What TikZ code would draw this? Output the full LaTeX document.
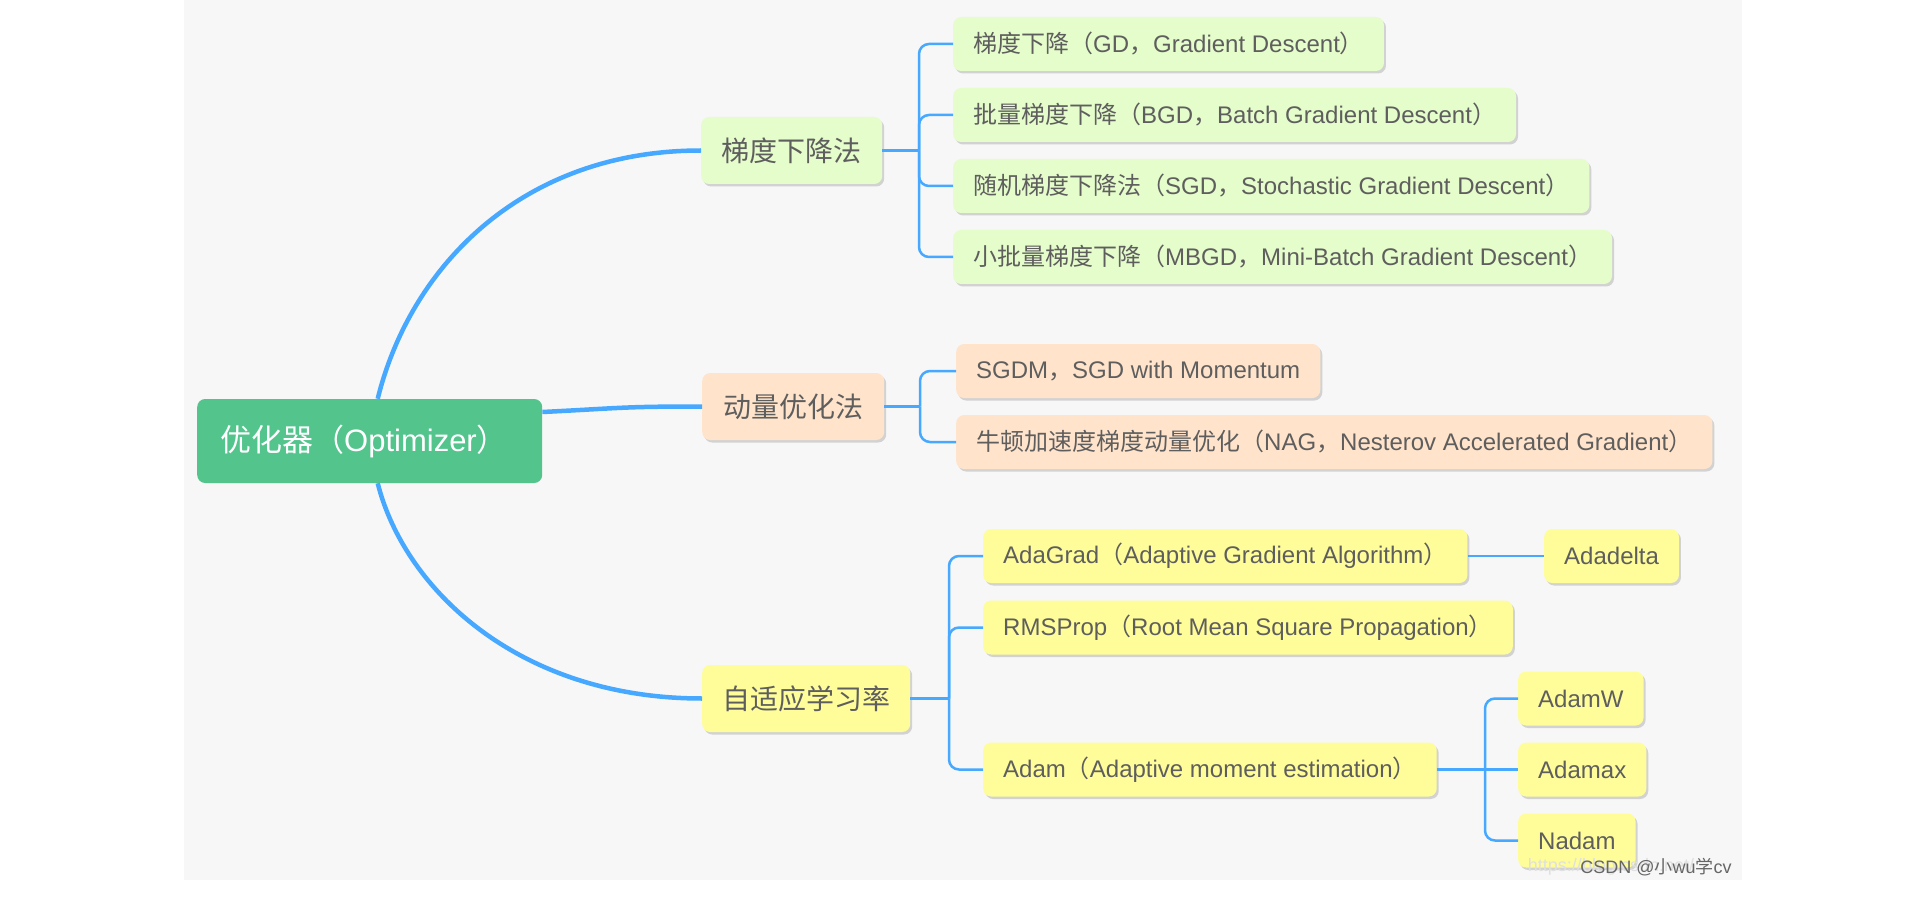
\documentclass[tikz,border=0pt]{standalone}
\usepackage{fontspec}
\setmainfont{Liberation Sans}
\newfontfamily\zhfont{Noto Sans CJK SC}
\usetikzlibrary{shadows}

% Chinese characters and full-width punctuation switch to the CJK font
\XeTeXinterchartokenstate=1
\newXeTeXintercharclass\zhclass
\newcount\zhchar
\def\zhrange#1#2{\zhchar=#1
  \loop\XeTeXcharclass\zhchar=\zhclass
  \ifnum\zhchar<#2 \advance\zhchar by 1 \repeat}
\zhrange{"3000}{"303F}
\zhrange{"4E00}{"9FFF}
\zhrange{"FF00}{"FFEF}
\XeTeXinterchartoks 0 \zhclass={\zhfont}
\XeTeXinterchartoks 4095 \zhclass={\zhfont}
\XeTeXinterchartoks \zhclass 0={\rmfamily}
\XeTeXinterchartoks \zhclass 4095={\rmfamily}

\definecolor{rootgreen}{HTML}{52C48C}
\definecolor{gdfill}{HTML}{E5FCCB}
\definecolor{momfill}{HTML}{FFE4CB}
\definecolor{adafill}{HTML}{FFFD99}
\definecolor{linkblue}{HTML}{46A8FF}
\definecolor{txtgray}{HTML}{5E5E5E}
\definecolor{bggray}{HTML}{F7F7F7}

\newcommand\rootfont{\fontsize{31}{36}\selectfont}
\newcommand\topicfont{\fontsize{28}{32}\selectfont}
\newcommand\leaffont{\fontsize{24}{28}\selectfont}
\newcommand\markfont{\fontsize{18}{20}\selectfont}

\begin{document}
\begin{tikzpicture}
        [x=1pt,y=-1pt,
         box/.style={rounded corners=8,anchor=west,text=txtgray,
           drop shadow={shadow xshift=2pt,shadow yshift=-2.5pt,fill=black!60,opacity=.25}},
         root/.style={rounded corners=8,anchor=west,fill=rootgreen,text=white,font=\rootfont,
           inner xsep=23,text width=299pt,align=left,minimum height=84},
         topic/.style={box,fill=#1,font=\topicfont,inner xsep=0,minimum height=67},
         leaf/.style={box,fill=#1,font=\leaffont,inner xsep=20,minimum height=54},
         trunk/.style={draw=linkblue,line width=4.5pt},
         twig/.style={draw=linkblue,line width=2.5pt,rounded corners=10}]
        \useasboundingbox (0,0) rectangle (1925,901);
        \fill[bggray] (184,0) rectangle (1742,880);

        \node[root] (opt) at (197,441) {优化器（Optimizer）};

        \node[topic=gdfill,minimum width=181] (gd) at (701,150.5) {梯度下降法};
        \node[topic=momfill,minimum width=182] (mom) at (702,406.5) {动量优化法};
        \node[topic=adafill,minimum width=208] (ada) at (702,698.5) {自适应学习率};

        \node[leaf=gdfill] (gd1) at (953,44) {梯度下降（GD，Gradient Descent）};
        \node[leaf=gdfill] (gd2) at (953,115) {批量梯度下降（BGD，Batch Gradient Descent）};
        \node[leaf=gdfill] (gd3) at (953,186) {随机梯度下降法（SGD，Stochastic Gradient Descent）};
        \node[leaf=gdfill] (gd4) at (953,257) {小批量梯度下降（MBGD，Mini-Batch Gradient Descent）};

        \node[leaf=momfill] (sgdm) at (956,371) {SGDM，SGD with Momentum};
        \node[leaf=momfill] (nag) at (956,442) {牛顿加速度梯度动量优化（NAG，Nesterov Accelerated Gradient）};

        \node[leaf=adafill] (adagrad) at (983,556) {AdaGrad（Adaptive Gradient Algorithm）};
        \node[leaf=adafill] (adadelta) at (1544,556) {Adadelta};
        \node[leaf=adafill] (rms) at (983,627.5) {RMSProp（Root Mean Square Propagation）};
        \node[leaf=adafill] (adam) at (983,769.5) {Adam（Adaptive moment estimation）};
        \node[leaf=adafill] (adamw) at (1518,698.5) {AdamW};
        \node[leaf=adafill] (adamax) at (1518,769.5) {Adamax};
        \node[leaf=adafill] (nadam) at (1518,840.5) {Nadam};

        \coordinate (gdfork) at (919,150.5);
        \coordinate (momfork) at (920,406.5);
        \coordinate (adafork) at (949,698.5);
        \coordinate (adamfork) at (1485,769.5);

        \draw[trunk] ([xshift=8pt]opt.north) .. controls +(32,-130) and +(-181,0) .. (gd.west);
        \draw[trunk] ([yshift=29pt]opt.east) .. controls +(80,-4) and +(-80,0) .. (mom.west);
        \draw[trunk] ([xshift=8pt]opt.south) .. controls +(27,107) and +(-182,0) .. (ada.west);

        \foreach \from/\to in {gd/gdfork,mom/momfork,ada/adafork,adagrad/adadelta,adam/adamax}
        \draw[twig] (\from) -- (\to);

        \foreach \from/\to in {gdfork/gd1,gdfork/gd2,gdfork/gd3,gdfork/gd4,momfork/sgdm,momfork/nag,
                               adafork/adagrad,adafork/rms,adafork/adam,adamfork/adamw,adamfork/nadam}
        \draw[twig] (\from) |- (\to.west);

        \node[text=black!12,font=\markfont] (url) at (1611,867) {https://blog.csdn.net/};
        \node[text=black!60,font=\markfont] (mark) at (1656,867) {CSDN @小wu学cv};
\end{tikzpicture}
\end{document}
